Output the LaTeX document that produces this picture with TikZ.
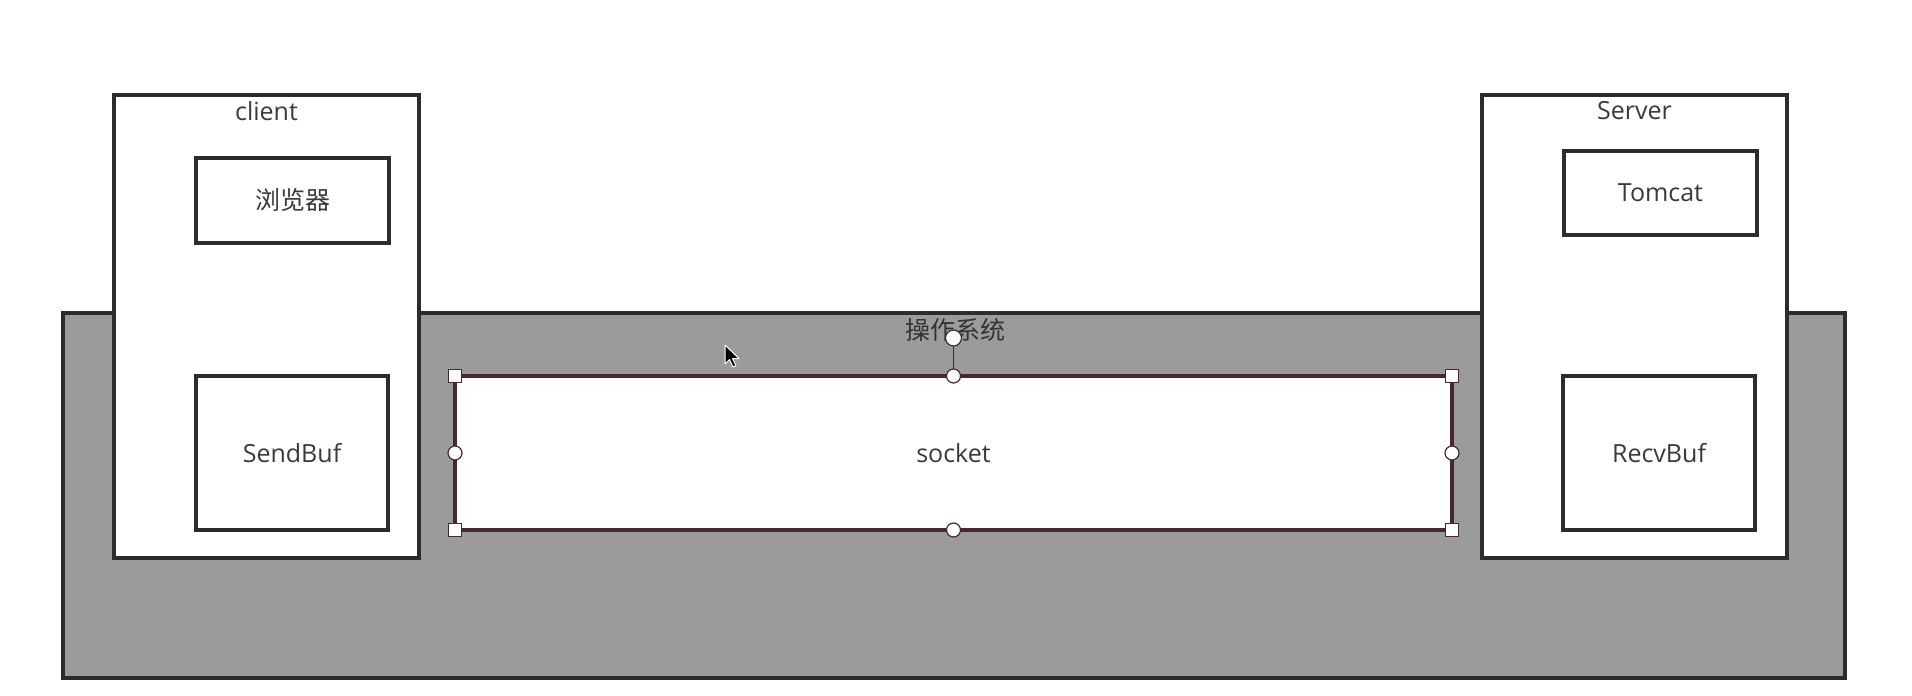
\documentclass[tikz,border=0pt]{standalone}
\usepackage{fontspec}
\setmainfont{Open Sans}
\newfontfamily\cjk{Noto Sans CJK SC}
\usetikzlibrary{positioning}
\definecolor{osgray}{HTML}{9C9B9C}
\definecolor{linegray}{HTML}{2C2C2C}
\definecolor{selline}{HTML}{45292E}
\definecolor{txtgray}{HTML}{3A3A3A}
\tikzset{
    box/.style={draw=linegray, line width=3.5pt, fill=white, inner sep=0pt, outer sep=0pt,
        font=\fontsize{25}{30}\selectfont, text=txtgray}, % 方框样式
    handlesq/.style={draw=selline, fill=white, line width=1.2pt, minimum size=13pt, inner sep=0pt},
    handlec/.style={circle, draw=selline, fill=white, line width=1.2pt, minimum size=14pt, inner sep=0pt},
    lbl/.style={font=\fontsize{25}{30}\selectfont, text=txtgray, inner sep=0pt}
}

\begin{document}
\begin{tikzpicture}[x=1pt, y=-1pt]
	\useasboundingbox[fill=white] (0,0) rectangle (1912,696);

	% 操作系统
	\node (os) [box, fill=osgray, minimum width=1782pt, minimum height=365pt] at (954,495.5) {};
	\node (oslbl) [lbl, text=black!80] at (955,330) {\cjk 操作系统};

	% client 端
	\node (client) [box, minimum width=305pt, minimum height=463pt] at (266.5,326.5) {};
	\node (clientlbl) [lbl, below=6pt of client.north] {client};
	\node (browser) [box, minimum width=193pt, minimum height=85pt] at (292.5,200.5) {\cjk 浏览器};
	\node (sendbuf) [box, minimum width=192pt, minimum height=154pt] at (292,453) {SendBuf};

	% Server 端
	\node (server) [box, minimum width=305pt, minimum height=463pt] at (1634.5,326.5) {};
	\node (serverlbl) [lbl, below=6pt of server.north] {Server};
	\node (tomcat) [box, minimum width=193pt, minimum height=84pt] at (1660.5,193) {Tomcat};
	\node (recvbuf) [box, minimum width=192pt, minimum height=154pt] at (1659,453) {RecvBuf};

	% socket 与选中手柄
	\node (socket) [box, draw=selline, minimum width=997pt, minimum height=154pt] at (953.5,453) {socket};
	\coordinate (rot) at (953.5,338);
	\draw[selline, line width=1.5pt] (socket.north) -- (rot);
	\node (h1) [handlesq] at (socket.north west) {};
	\node (h2) [handlesq] at (socket.north east) {};
	\node (h3) [handlesq] at (socket.south west) {};
	\node (h4) [handlesq] at (socket.south east) {};
	\node (h5) [handlec] at (socket.north) {};
	\node (h6) [handlec] at (socket.south) {};
	\node (h7) [handlec] at (socket.west) {};
	\node (h8) [handlec] at (socket.east) {};
	\node (h9) [handlec, minimum size=16pt] at (rot) {};

	% 鼠标指针
	\draw[white, fill=black, line width=1pt, line join=round]
		(725,345) -- ++(0,19) -- ++(4.5,-4.5) -- ++(3.5,7.5) -- ++(3,-1.3) -- ++(-3.5,-7.2) -- ++(6.5,0) -- cycle;
\end{tikzpicture}
\end{document}
